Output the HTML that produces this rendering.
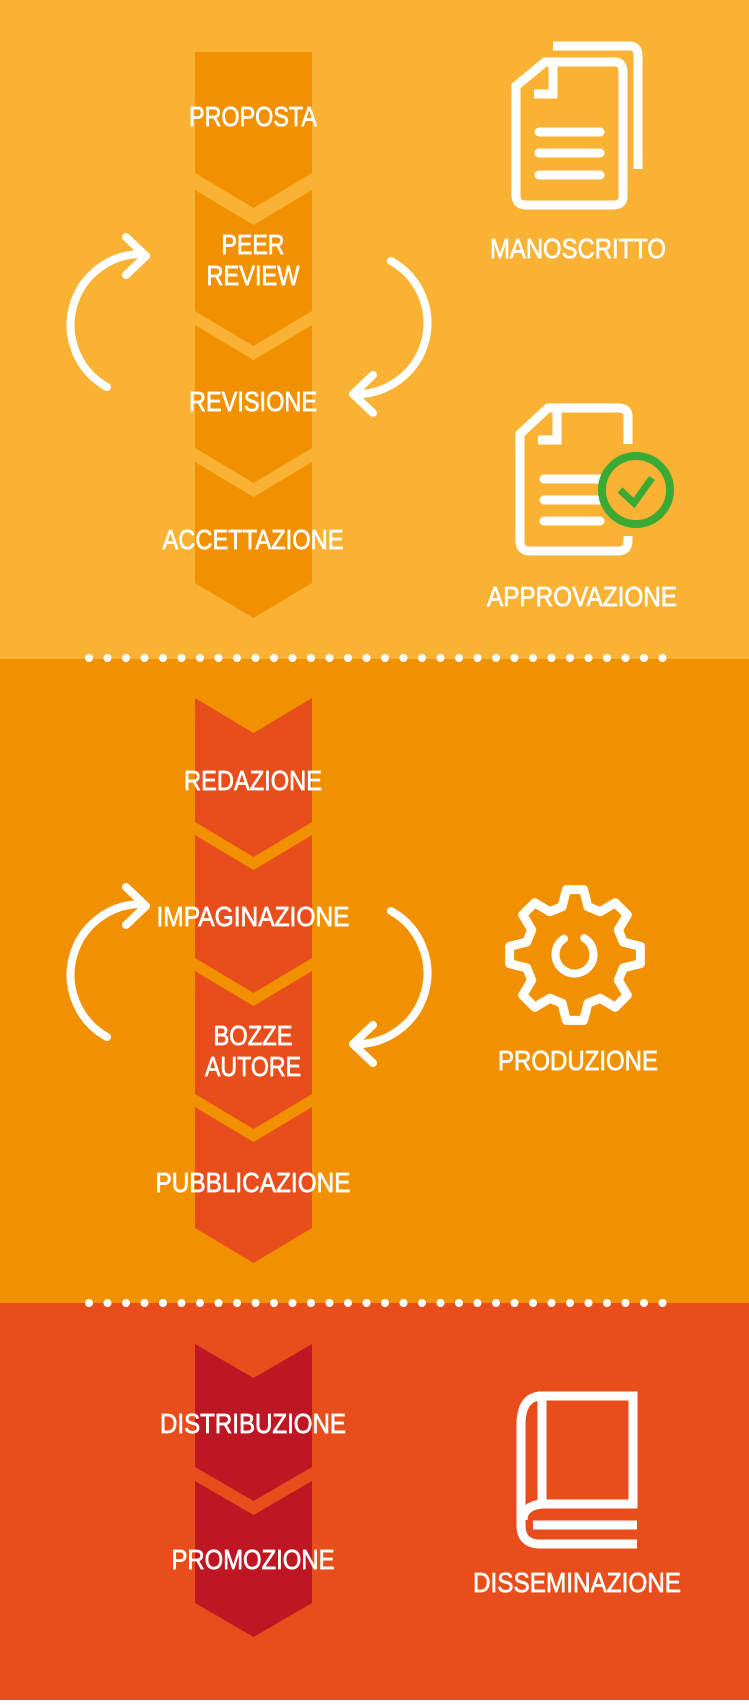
<!DOCTYPE html>
<html><head><meta charset="utf-8"><style>
html,body{margin:0;padding:0;}
body{width:749px;height:1700px;overflow:hidden;}
svg text{font-family:"Liberation Sans",sans-serif;font-size:28px;fill:#fff;stroke:#fff;stroke-width:0.7px;text-anchor:middle;}
</style></head><body>
<svg width="749" height="1700" viewBox="0 0 749 1700" xmlns="http://www.w3.org/2000/svg">
<rect x="0" y="0" width="749" height="659" fill="#F9B233"/>
<rect x="0" y="659" width="749" height="644" fill="#F29100"/>
<rect x="0" y="1303" width="749" height="397" fill="#E84E1B"/>
<g fill="#F29100">
<polygon points="195,52 312,52 312,173 253.5,208 195,173"/>
<polygon points="195,190 253.5,225 312,190 312,311 253.5,346 195,311"/>
<polygon points="195,325 253.5,360 312,325 312,448 253.5,483 195,448"/>
<polygon points="195,462 253.5,497 312,462 312,583 253.5,618 195,583"/>
</g>
<g fill="#E84E1B">
<polygon points="195,698 253.5,733 312,698 312,822 253.5,857 195,822"/>
<polygon points="195,835 253.5,870 312,835 312,958 253.5,993 195,958"/>
<polygon points="195,971 253.5,1006 312,971 312,1094 253.5,1129 195,1094"/>
<polygon points="195,1107 253.5,1142 312,1107 312,1228 253.5,1263 195,1228"/>
</g>
<g fill="#BE1622">
<polygon points="195,1344 253.5,1378 312,1344 312,1467 253.5,1501 195,1467"/>
<polygon points="195,1481 253.5,1515 312,1481 312,1603 253.5,1637 195,1603"/>
</g>
<g fill="none" stroke="#fff" stroke-width="8" stroke-linecap="round" stroke-linejoin="round">
<path d="M107,387 A71,71 0 0 1 143,254"/>
<path d="M126,237 L146,256 L126,275"/>
<path d="M391,261 A71,71 0 0 1 354,394"/>
<path d="M373,375 L353,394 L373,413"/>
<g transform="translate(0,650)">
<path d="M107,387 A71,71 0 0 1 143,254"/>
<path d="M126,237 L146,256 L126,275"/>
<path d="M391,261 A71,71 0 0 1 354,394"/>
<path d="M373,375 L353,394 L373,413"/>
</g>
</g>
<g fill="none" stroke="#fff" stroke-width="9">
<path d="M553,46 H630 Q638,46 638,56 V169"/>
<path d="M545,62 H615 Q623,62 623,72 V197 Q623,205 613,205 H526 Q516,205 516,195 V86 Z"/>
<path d="M534,94 H553 V60"/>
</g>
<g stroke="#fff" stroke-width="9" stroke-linecap="round">
<line x1="539" y1="132" x2="600" y2="132"/>
<line x1="539" y1="153" x2="600" y2="153"/>
<line x1="539" y1="175" x2="600" y2="175"/>
</g>
<g fill="none" stroke="#fff" stroke-width="9">
<path d="M628,444 V416 Q628,408 618,408 H548 L520,434 V541 Q520,551 530,551 H618 Q628,551 628,541 V536"/>
<path d="M538,440 H557 V406"/>
</g>
<g stroke="#fff" stroke-width="9" stroke-linecap="round">
<line x1="544" y1="479" x2="600" y2="479"/>
<line x1="544" y1="500" x2="600" y2="500"/>
<line x1="544" y1="521" x2="600" y2="521"/>
</g>
<circle cx="636" cy="490" r="34" fill="#F9B233" stroke="#3AAA35" stroke-width="8"/>
<path d="M620,490 L634,503 L652,478" fill="none" stroke="#3AAA35" stroke-width="7"/>
<path id="gear" fill="none" stroke="#fff" stroke-width="9" stroke-linejoin="round" d=""/>
<path d="M567,937 A19,19 0 1 0 587,940" fill="none" stroke="#fff" stroke-width="8" stroke-linecap="round" transform="rotate(-10 575 955)"/>
<g fill="none" stroke="#fff" stroke-width="9">
<path d="M637,1396 H542 Q521,1396 521,1425 V1525 Q521,1544 540,1544 H637"/>
<rect x="542" y="1396" width="91" height="108"/>
<path d="M542,1504 Q523,1506 523,1520"/>
</g>
<line x1="533" y1="1525" x2="637" y2="1525" stroke="#fff" stroke-width="9"/>
<text x="253" y="126" textLength="128" lengthAdjust="spacingAndGlyphs">PROPOSTA</text>
<text x="253" y="254" textLength="63" lengthAdjust="spacingAndGlyphs">PEER</text>
<text x="253" y="285" textLength="93" lengthAdjust="spacingAndGlyphs">REVIEW</text>
<text x="253" y="411" textLength="128" lengthAdjust="spacingAndGlyphs">REVISIONE</text>
<text x="253" y="549" textLength="181" lengthAdjust="spacingAndGlyphs">ACCETTAZIONE</text>
<text x="578" y="258" textLength="176" lengthAdjust="spacingAndGlyphs">MANOSCRITTO</text>
<text x="582" y="606" textLength="190" lengthAdjust="spacingAndGlyphs">APPROVAZIONE</text>
<text x="253" y="790" textLength="138" lengthAdjust="spacingAndGlyphs">REDAZIONE</text>
<text x="253" y="926" textLength="193" lengthAdjust="spacingAndGlyphs">IMPAGINAZIONE</text>
<text x="253" y="1045" textLength="79" lengthAdjust="spacingAndGlyphs">BOZZE</text>
<text x="253" y="1076" textLength="96" lengthAdjust="spacingAndGlyphs">AUTORE</text>
<text x="253" y="1192" textLength="195" lengthAdjust="spacingAndGlyphs">PUBBLICAZIONE</text>
<text x="578" y="1070" textLength="160" lengthAdjust="spacingAndGlyphs">PRODUZIONE</text>
<text x="253" y="1433" textLength="186" lengthAdjust="spacingAndGlyphs">DISTRIBUZIONE</text>
<text x="253" y="1569" textLength="163" lengthAdjust="spacingAndGlyphs">PROMOZIONE</text>
<text x="577" y="1592" textLength="208" lengthAdjust="spacingAndGlyphs">DISSEMINAZIONE</text>
</svg>
<script>
(function(){
var ns="http://www.w3.org/2000/svg",svg=document.querySelector("svg");
function dots(y){for(var i=0;i<32;i++){var c=document.createElementNS(ns,"circle");c.setAttribute("cx",89+i*18.5);c.setAttribute("cy",y);c.setAttribute("r",4);c.setAttribute("fill","#fff");svg.appendChild(c);}}
dots(658);dots(1303);
var cx=575,cy=955,ro=66,ri=50,d="";
for(var k=0;k<8;k++){var t=(-90+k*45)*Math.PI/180;
var pts=[[ri,t-0.26],[ro,t-0.13],[ro,t+0.13],[ri,t+0.26]];
pts.forEach(function(p,j){var x=cx+p[0]*Math.cos(p[1]),y=cy+p[0]*Math.sin(p[1]);d+=(k==0&&j==0?"M":"L")+x.toFixed(1)+","+y.toFixed(1)+" ";});}
document.getElementById("gear").setAttribute("d",d+"Z");
})();
</script>
</body></html>
